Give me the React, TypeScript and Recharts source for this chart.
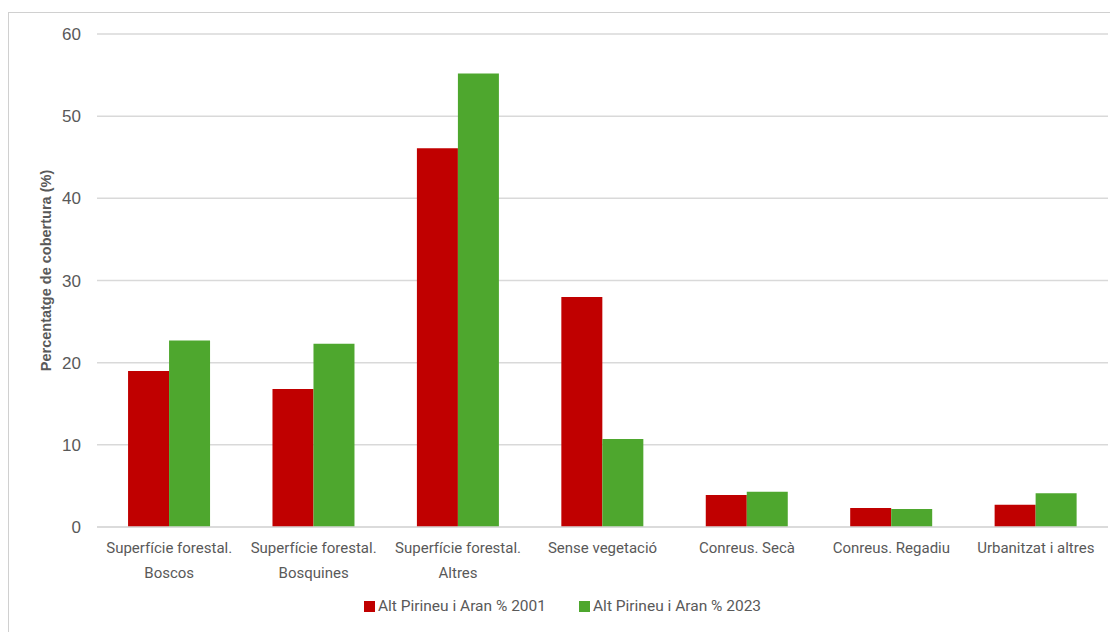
import React from 'react';
import {
  BarChart, Bar, XAxis, YAxis, CartesianGrid, Legend
} from 'recharts';

// Categories i valors (percentatge de cobertura)
const categories = [
  'Superfície forestal. Boscos',
  'Superfície forestal. Bosquines',
  'Superfície forestal. Altres',
  'Sense vegetació',
  'Conreus. Secà',
  'Conreus. Regadiu',
  'Urbanitzat i altres',
];
const valors2001 = [19.0, 16.8, 46.1, 28.0, 3.9, 2.3, 2.7];
const valors2023 = [22.7, 22.3, 55.2, 10.7, 4.3, 2.2, 4.1];
const yTicks = [0, 10, 20, 30, 40, 50, 60];

const serie2001 = 'Alt Pirineu i Aran % 2001';
const serie2023 = 'Alt Pirineu i Aran % 2023';

const RED = '#C00000';
const GREEN = '#4EA72E';
const TEXT = '#595959';
const FONT = 'Roboto, "Noto Sans", sans-serif';
const FONT_ARIAL = '"Liberation Sans", Arial, sans-serif';

const data = categories.map((cat, i) => ({
  cat,
  v2001: valors2001[i],
  v2023: valors2023[i],
}));

// Parteix l'etiqueta en dues línies si és massa llarga
const wrapLabel = (text: string): string[] => {
  if (text.length <= 20) return [text];
  const idx = text.lastIndexOf(' ', 20);
  return [text.slice(0, idx), text.slice(idx + 1)];
};

const CategoryTick = (props: any) => {
  const { x, y, payload } = props;
  const lines = wrapLabel(payload.value);
  return (
    <g transform={`translate(${x},${y})`}>
      {lines.map((line, i) => (
        <text
          key={i}
          x={0}
          y={i * 25 + 7}
          dy="0.71em"
          textAnchor="middle"
          fill={TEXT}
          fontSize={15}
          fontFamily={FONT}
        >
          {line}
        </text>
      ))}
    </g>
  );
};

const YLabel = (props: any) => {
  const { viewBox } = props;
  const cx = 37;
  const cy = viewBox.y + viewBox.height / 2 - 10;
  return (
    <text
      x={cx}
      y={cy}
      transform={`rotate(-90, ${cx}, ${cy})`}
      textAnchor="middle"
      dominantBaseline="central"
      fill={TEXT}
      fontSize={14.5}
      fontWeight="bold"
      fontFamily={FONT_ARIAL}
    >
      Percentatge de cobertura (%)
    </text>
  );
};

const LegendContent = () => (
  <div
    style={{
      display: 'flex',
      justifyContent: 'center',
      gap: 33,
      fontFamily: FONT,
      fontSize: 15.5,
      color: TEXT,
      marginLeft: 8,
    }}
  >
    {[{ name: serie2001, color: RED }, { name: serie2023, color: GREEN }].map((item) => (
      <div key={item.name} style={{ display: 'flex', alignItems: 'center' }}>
        <span style={{ width: 11, height: 11, background: item.color, marginRight: 3, display: 'inline-block' }} />
        <span>{item.name}</span>
      </div>
    ))}
  </div>
);

const App: React.FC = () => {
  return (
    <div
      style={{
        position: 'relative',
        top: 4,
        width: 1118,
        height: 630,
        borderTop: '1px solid #d0d0d0',
        borderLeft: '1px solid #d0d0d0',
        background: '#fff',
      }}
    >
      <BarChart
        width={1109}
        height={618}
        data={data}
        margin={{ top: 21, right: 10, bottom: 26, left: 0 }}
        barCategoryGap="21.5%"
        barGap={0}
      >
        <CartesianGrid vertical={false} stroke="#d9d9d9" strokeWidth={1.5} />
        <XAxis
          dataKey="cat"
          axisLine={{ stroke: '#d9d9d9', strokeWidth: 1.5 }}
          tickLine={false}
          tick={<CategoryTick />}
          interval={0}
          height={60}
        />
        <YAxis
          domain={[0, 60]}
          ticks={yTicks}
          axisLine={false}
          tickLine={false}
          width={88}
          tickMargin={10}
          tick={{ fill: TEXT, fontSize: 17, fontFamily: FONT_ARIAL }}
          label={<YLabel />}
        />
        <Legend verticalAlign="bottom" content={<LegendContent />} wrapperStyle={{ bottom: 16 }} />
        <Bar dataKey="v2001" name={serie2001} fill={RED} isAnimationActive={false} />
        <Bar dataKey="v2023" name={serie2023} fill={GREEN} isAnimationActive={false} />
      </BarChart>
    </div>
  );
};

export default App;
